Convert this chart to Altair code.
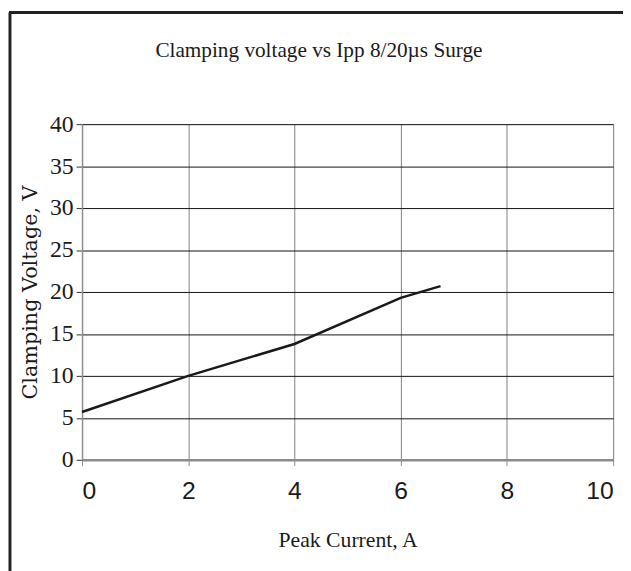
import altair as alt
import pandas as pd

current = [0, 2, 4, 6, 6.75]
voltage = [5.7, 10.0, 13.8, 19.3, 20.7]

x_ticks = [0, 2, 4, 6, 8, 10]
y_ticks = [0, 5, 10, 15, 20, 25, 30, 35, 40]

chart_title = "Clamping voltage vs Ipp 8/20\u00b5s Surge"

df = pd.DataFrame({"current": current, "voltage": voltage})

serif = "Liberation Serif"
sans = "Liberation Sans Narrow, Arial Narrow, Liberation Sans, Arial"

line = alt.Chart(df).mark_line(color="#1a1a1a", strokeWidth=2.5).encode(
    x=alt.X("current:Q", scale=alt.Scale(domain=[0, 10], nice=False),
            axis=alt.Axis(values=x_ticks, title="Peak Current, A", grid=True,
                          gridColor="#808080", gridWidth=1,
                          domainColor="#8c8c8c", domainWidth=2.5,
                          tickColor="#8c8c8c", tickSize=6, tickWidth=1,
                          labelFont=sans, labelFontSize=25, labelColor="#1a1a1a",
                          labelPadding=13,
                          titleFont=serif, titleFontSize=22, titleFontWeight="normal",
                          titleColor="#1a1a1a", titlePadding=27)),
    y=alt.Y("voltage:Q", scale=alt.Scale(domain=[0, 40], nice=False),
            axis=alt.Axis(values=y_ticks, title="Clamping Voltage, V", grid=True,
                          gridColor="#111111", gridWidth=1,
                          domainColor="#8c8c8c", domainWidth=1.5,
                          tickColor="#333333", tickSize=6, tickWidth=1,
                          labelFont=serif, labelFontSize=24, labelColor="#1a1a1a",
                          labelPadding=3,
                          titleFont="DejaVu Serif", titleFontSize=21, titleFontWeight="normal",
                          titleColor="#1a1a1a", titlePadding=9)),
)

one = pd.DataFrame({"t": [chart_title]})
title_mark = alt.Chart(one).mark_text(
    font=serif, fontSize=21.5, color="#1a1a1a", align="center", baseline="alphabetic", clip=False
).encode(text="t:N", x=alt.value(240), y=alt.value(-68))

frame_left = alt.Chart(one).mark_rule(color="#222222", strokeWidth=3, clip=False).encode(
    x=alt.value(-73), y=alt.value(-113), y2=alt.value(470)
)
frame_top = alt.Chart(one).mark_rule(color="#222222", strokeWidth=3, clip=False).encode(
    x=alt.value(-74), x2=alt.value(560), y=alt.value(-113)
)

chart = alt.layer(frame_left, frame_top, title_mark, line).properties(
    width=538,
    height=340,
    autosize=alt.AutoSizeParams(type="none"),
    padding={"left": 75, "top": 114, "right": 10, "bottom": 109},
).configure_view(stroke="#999999", strokeWidth=2).configure(background="white")

chart.save("out.html", embed_options={"renderer": "svg", "actions": False})
